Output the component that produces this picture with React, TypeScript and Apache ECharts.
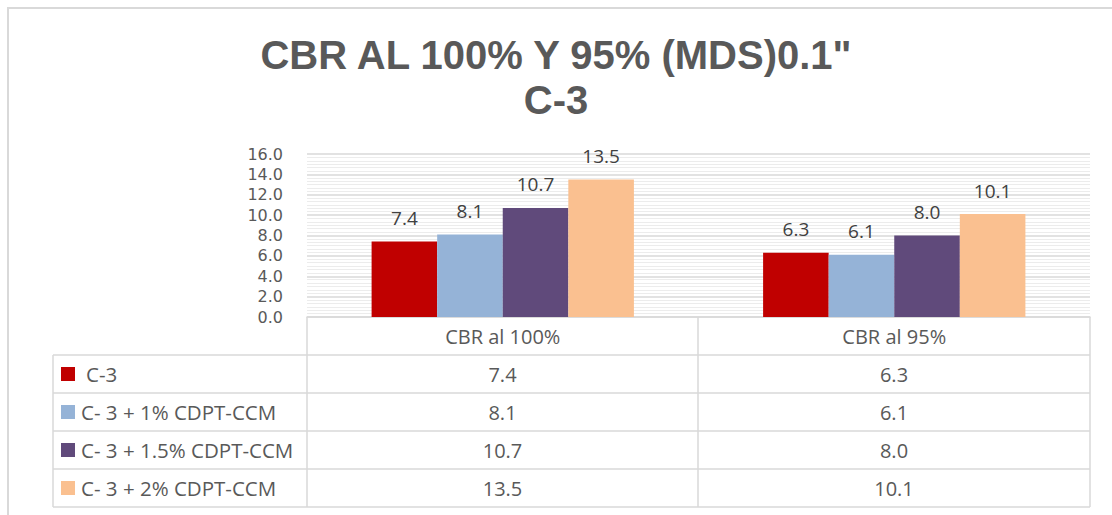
import React, { useEffect, useRef } from "react";
import * as echarts from "echarts";

const categories = ["CBR al 100%", "CBR al 95%"];
const seriesNames = ["C-3", "C- 3 + 1% CDPT-CCM", "C- 3 + 1.5% CDPT-CCM", "C- 3 + 2% CDPT-CCM"];
const c3 = [7.4, 6.3];
const c3p1 = [8.1, 6.1];
const c3p15 = [10.7, 8.0];
const c3p2 = [13.5, 10.1];
const seriesValues = [c3, c3p1, c3p15, c3p2];
const colors = ["#C00000", "#95B3D7", "#604A7B", "#FAC090"];
const titleLines = ['CBR AL 100% Y 95% (MDS)0.1"', "C-3"];

export default function App() {
  const ref = useRef<HTMLDivElement>(null);
  useEffect(() => {
    document.body.style.margin = "0";
    const chart = echarts.init(ref.current!, null, { renderer: "svg" });
    const W = 1112;
    const plotL = 307, plotR = 1090, plotT = 154, plotB = 317;
    const colDiv = 698;
    const tableL = 53;
    const rowTop = 355, rowH = 38;
    const nRows = seriesNames.length;
    const tableB = rowTop + rowH * nRows;
    const lineStyle = { stroke: "#d9d9d9", lineWidth: 1.5 };
    const font = "Open Sans";
    const textColor = "#595959";
    const graphics: any[] = [];
    graphics.push({ type: "rect", shape: { x: 8, y: 8, width: W + 20, height: 600 }, style: { fill: "none", stroke: "#d9d9d9", lineWidth: 2 }, silent: true });
    for (let i = 0; i <= nRows; i++) {
      const y = rowTop + rowH * i;
      graphics.push({ type: "line", shape: { x1: tableL, y1: y, x2: plotR, y2: y }, style: lineStyle });
    }
    graphics.push({ type: "line", shape: { x1: tableL, y1: rowTop, x2: tableL, y2: tableB }, style: lineStyle });
    [plotL, colDiv, plotR].forEach((x) => {
      graphics.push({ type: "line", shape: { x1: x, y1: plotB, x2: x, y2: tableB }, style: lineStyle });
    });
    const colCenters = [(plotL + colDiv) / 2, (colDiv + plotR) / 2];
    seriesNames.forEach((name, i) => {
      const cy = rowTop + rowH * i + rowH / 2;
      graphics.push({ type: "rect", shape: { x: 61, y: cy - 7, width: 14, height: 14 }, style: { fill: colors[i] } });
      graphics.push({
        type: "text", x: i === 0 ? 86 : 81, y: cy,
        style: { text: name, font: `20.5px "${font}"`, fill: textColor, verticalAlign: "middle" },
      });
      seriesValues[i].forEach((v, j) => {
        graphics.push({
          type: "text", x: colCenters[j], y: cy,
          style: { text: v.toFixed(1), font: `20px "${font}"`, fill: textColor, align: "center", verticalAlign: "middle" },
        });
      });
    });
    chart.setOption({
      animation: false,
      title: {
        text: titleLines.join("\n"),
        left: "center",
        top: 27,
        textStyle: { fontFamily: "Liberation Sans", fontWeight: "bold", fontSize: 40, color: textColor, lineHeight: 45 },
      },
      grid: { left: plotL, right: W - plotR, top: plotT, bottom: 515 - plotB },
      xAxis: {
        type: "category",
        data: categories,
        axisLine: { show: true, lineStyle: { color: "#d9d9d9", width: 1.5 } },
        axisTick: { show: false },
        axisLabel: { fontFamily: font, fontSize: 20, color: textColor, margin: 9 },
      },
      yAxis: {
        type: "value",
        min: 0,
        max: 16,
        interval: 2,
        axisLabel: { fontFamily: "DejaVu Sans", fontSize: 16, lineHeight: 17, color: textColor, margin: 24, formatter: (v: number) => v.toFixed(1) },
        splitLine: { show: true, lineStyle: { color: "#d9d9d9", width: 1.5 } },
        minorTick: { show: false, splitNumber: 6 },
        minorSplitLine: { show: true, lineStyle: { color: "#ececec", width: 1 } },
        axisLine: { show: false },
        axisTick: { show: false },
      },
      series: seriesNames.map((name, i) => ({
        type: "bar",
        name,
        data: seriesValues[i],
        itemStyle: { color: colors[i] },
        barGap: "0%",
        barCategoryGap: "33%",
        label: {
          show: true,
          position: "top",
          distance: 14,
          fontFamily: font,
          fontSize: 19,
          color: "#404040",
          formatter: (p: any) => Number(p.value).toFixed(1),
        },
      })),
      graphic: graphics,
    });
    return () => chart.dispose();
  }, []);
  return <div ref={ref} style={{ width: 1112, height: 515 }} />;
}
